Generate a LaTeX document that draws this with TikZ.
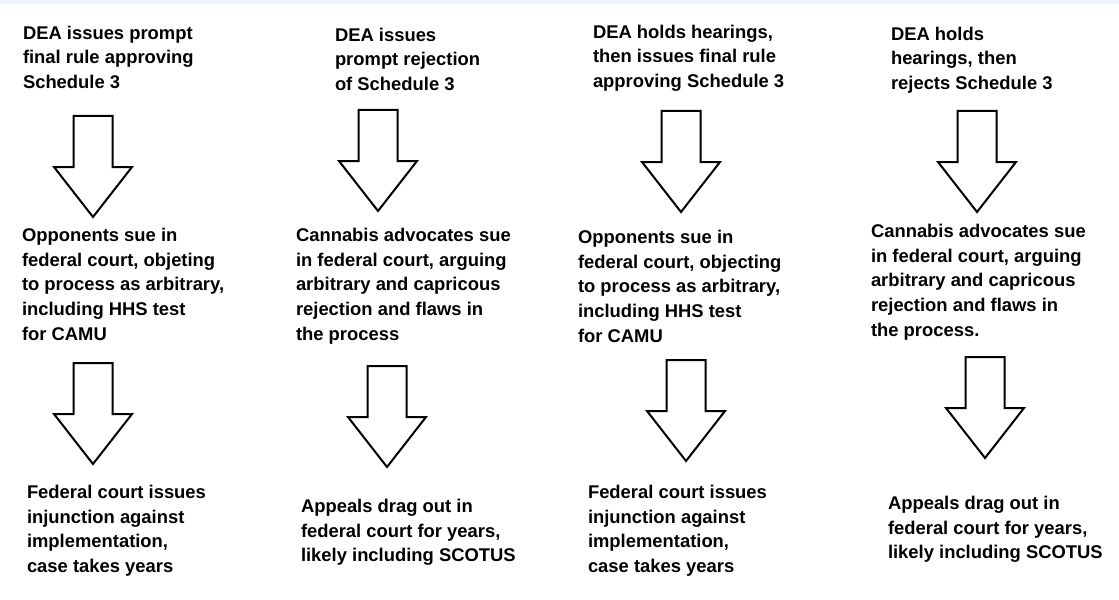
\documentclass[tikz,border=0pt]{standalone}
\usepackage{fontspec}
\setmainfont{Liberation Sans}
\definecolor{stripgray}{RGB}{240,243,247}
\tikzset{
  txt/.style={anchor=north west, inner sep=0pt, outer sep=0pt, align=left,
    font=\bfseries\fontsize{13.8pt}{18.5pt}\selectfont, text=black},
  blockarrow/.style={draw=black, line width=1.5pt, fill=white, line join=miter},
}
\newcommand{\blockarr}[3]{%
  \draw[blockarrow] (#2-19.5,#3) -- (#2+19.5,#3) -- (#2+19.5,#3+51) -- (#2+39,#3+51)
    -- (#2,#3+101) -- (#2-39,#3+51) -- (#2-19.5,#3+51) -- cycle;
  \coordinate (#1) at (#2,#3+101);
}
\begin{document}
\begin{tikzpicture}[x=0.75pt,y=-0.75pt]
\useasboundingbox (0,0) rectangle (1119,599);
\fill[white] (0,0) rectangle (1119,599);
\fill[stripgray] (0,0) rectangle (1119,4);

% column 1
\node[txt] (t1a) at (23,26) {DEA issues prompt\\final rule approving\\Schedule 3};
\node[txt] (t1b) at (22,228) {Opponents sue in\\federal court, objeting\\to process as arbitrary,\\including HHS test\\for CAMU};
\node[txt] (t1c) at (27,485) {Federal court issues\\injunction against\\implementation,\\case takes years};
\blockarr{a1a}{93}{116}
\blockarr{a1b}{93}{363}

% column 2
\node[txt] (t2a) at (335,28) {DEA issues\\prompt rejection\\of Schedule 3};
\node[txt] (t2b) at (296,228) {Cannabis advocates sue\\in federal court, arguing\\arbitrary and capricous\\rejection and flaws in\\the process};
\node[txt] (t2c) at (301,499) {Appeals drag out in\\federal court for years,\\likely including SCOTUS};
\blockarr{a2a}{378}{110}
\blockarr{a2b}{387}{366}

% column 3
\node[txt] (t3a) at (593,25) {DEA holds hearings,\\then issues final rule\\approving Schedule 3};
\node[txt] (t3b) at (578,230) {Opponents sue in\\federal court, objecting\\to process as arbitrary,\\including HHS test\\for CAMU};
\node[txt] (t3c) at (588,485) {Federal court issues\\injunction against\\implementation,\\case takes years};
\blockarr{a3a}{681}{111}
\blockarr{a3b}{686}{360}

% column 4
\node[txt] (t4a) at (891,27) {DEA holds\\hearings, then\\rejects Schedule 3};
\node[txt] (t4b) at (871,224) {Cannabis advocates sue\\in federal court, arguing\\arbitrary and capricous\\rejection and flaws in\\the process.};
\node[txt] (t4c) at (888,496) {Appeals drag out in\\federal court for years,\\likely including SCOTUS};
\blockarr{a4a}{977}{111}
\blockarr{a4b}{985}{357}
\end{tikzpicture}
\end{document}
